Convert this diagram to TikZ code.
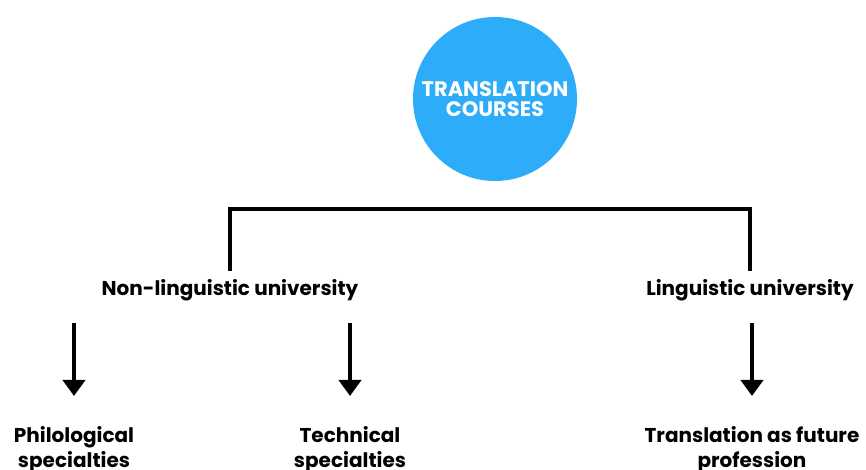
\documentclass[tikz,border=0pt]{standalone}
\usepackage{fontspec}
\setmainfont{Poppins}
\usepackage{xcolor}
\usetikzlibrary{arrows.meta,positioning}
\definecolor{courseblue}{RGB}{45,172,250}

\begin{document}
\begin{tikzpicture}[
    x=1pt, y=1pt,
    hub/.style={circle, fill=courseblue, minimum size=164pt, inner sep=0pt, text=white, align=center, font={\fontsize{21}{20}\selectfont\bfseries}},
    uni/.style={inner sep=2pt, font={\fontsize{20}{24}\selectfont\bfseries}},
    spec/.style={inner sep=2pt, align=center, font={\fontsize{20}{25}\selectfont\bfseries}},
    link/.style={line width=3.5pt},
    down/.style={-{Triangle[width=22pt,length=16pt]}, line width=4.5pt}
]
\useasboundingbox (0,0) rectangle (866,470);

% top: course circle
\node[hub] (course) at (495,371) {TRANSLATION\\COURSES};

% middle: universities
\node[uni] (nonling) at (230,180) {Non-linguistic university};
\node[uni] (ling) at (750,180) {Linguistic university};

% bottom: specialties
\node[spec, anchor=north] (phil) at (74,46) {Philological\\specialties};
\node[spec, anchor=north] (tech) at (350,46) {Technical\\specialties};
\node[spec, anchor=north] (prof) at (752,46) {Translation as future\\profession};

% bracket over the universities
\draw[link] ([yshift=6pt]nonling.north) -- ++(0,62) -| ([yshift=6pt]ling.north);

% arrows down
\draw[down] (phil.north |- nonling.south) ++(0,-20) -- ([yshift=28pt]phil.north);
\draw[down] (tech.north |- nonling.south) ++(0,-20) -- ([yshift=28pt]tech.north);
\draw[down] (prof.north |- ling.south) ++(0,-20) -- ([yshift=28pt]prof.north);

\end{tikzpicture}
\end{document}
